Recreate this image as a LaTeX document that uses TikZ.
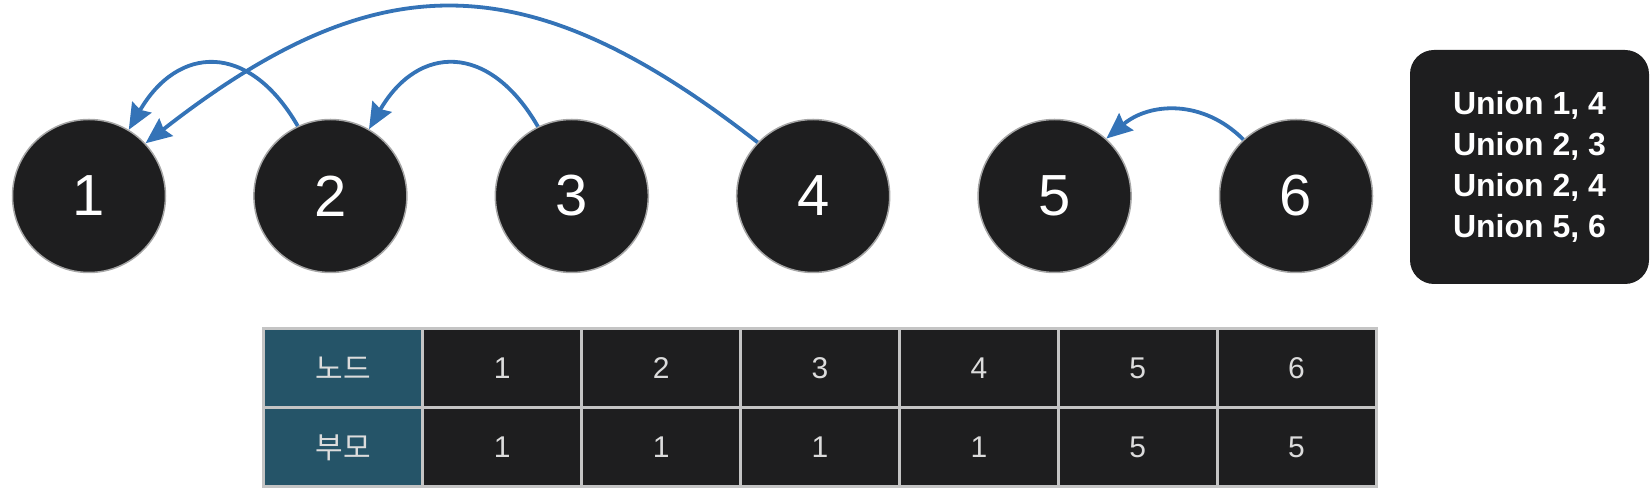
\documentclass[tikz,border=0pt]{standalone}
\usepackage{fontspec}
\setmainfont{Liberation Sans}
\newfontfamily\krfont{Noto Sans CJK KR}
\usetikzlibrary{arrows.meta,positioning}
\definecolor{nodebg}{HTML}{1E1E1F}
\definecolor{linkblue}{HTML}{3473B7}
\definecolor{headteal}{HTML}{255468}
\definecolor{gridgray}{HTML}{C4C4C4}
\definecolor{celltext}{HTML}{DCDCDC}
\begin{document}
\begin{tikzpicture}[x=1pt,y=1pt,node distance=241.4pt,
	state/.style={circle,draw=gray!70,line width=1.5pt,fill=nodebg,minimum size=153pt,inner sep=0pt,text=white,font=\fontsize{58}{60}\selectfont},
	link/.style={draw=linkblue,line width=3.8pt,-{Stealth[length=26pt,width=22pt,inset=3pt]}},
	cell/.style={draw=gridgray,line width=3pt,fill=nodebg,minimum width=158.9pt,minimum height=79pt,inner sep=0pt,text=celltext,font=\fontsize{30}{32}\selectfont},
	head/.style={cell,fill=headteal,font=\krfont\fontsize{30}{32}\selectfont}]
	\useasboundingbox (0,0) rectangle (1652,492);

	\node[state] (n1) at (89,296) {1};
	\node[state] (n2) [right of=n1] {2};
	\node[state] (n3) [right of=n2] {3};
	\node[state] (n4) [right of=n3] {4};
	\node[state] (n5) [right of=n4] {5};
	\node[state] (n6) [right of=n5] {6};

	\node[fill=nodebg,rounded corners=24pt,minimum width=239pt,minimum height=234pt,align=center,text=white,
		font=\bfseries\fontsize{32}{41}\selectfont] (ops) at (1529.5,325)
		{Union 1, 4\\Union 2, 3\\Union 2, 4\\Union 5, 6};

	\path (n2.115) edge[link,out=120,in=60,looseness=1.48] (n1.59)
	(n3.116) edge[link,out=120,in=60,looseness=1.48] (n2.60)
	(n4.136) edge[link,out=142,in=38,looseness=1.23] (n1.43)
	(n6.133) edge[link,out=135,in=40,looseness=1.06] (n5.48)
	;

	% table
	\node[head] (h1) at (343.4,123.5) {노드};
	\node[head] (h2) at (343.4,44.5) {부모};
	\foreach \v [count=\i] in {1,2,3,4,5,6}
		\node[cell] (a\i) at ({343.4+158.86*\i},123.5) {\v};
	\foreach \p [count=\i] in {1,1,1,1,5,5}
		\node[cell] (b\i) at ({343.4+158.86*\i},44.5) {\p};
\end{tikzpicture}
\end{document}
